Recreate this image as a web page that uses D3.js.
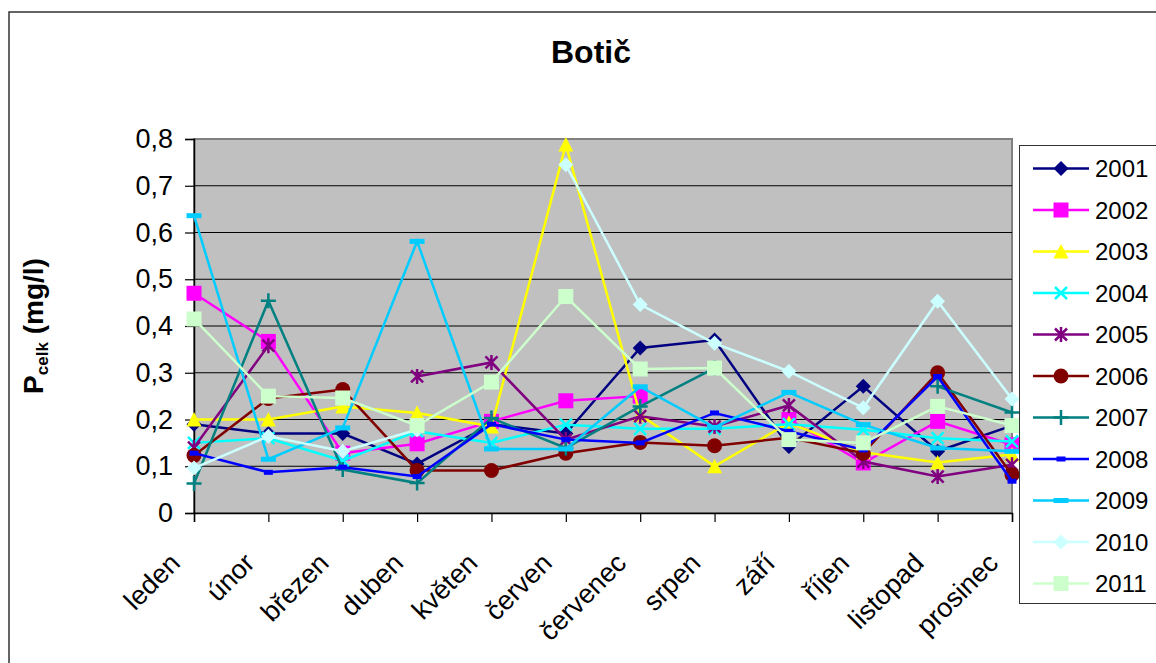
<!DOCTYPE html>
<html>
<head>
<meta charset="utf-8">
<script src="https://cdn.jsdelivr.net/npm/d3@7"></script>
<style>
  body { margin: 0; background: #fff; }
  text { font-family: "Liberation Sans", Arial, sans-serif; }
</style>
</head>
<body>
<svg id="chart" width="1156" height="663"></svg>
<script>
const months = ["leden", "únor", "březen", "duben", "květen", "červen",
                "červenec", "srpen", "září", "říjen", "listopad", "prosinec"];
const years = ["2001", "2002", "2003", "2004", "2005", "2006",
               "2007", "2008", "2009", "2010", "2011"];

const p2001 = [0.19, 0.17, 0.17, 0.105, 0.19, 0.17, 0.353, 0.37, 0.142, 0.271, 0.132, 0.187];
const p2002 = [0.47, 0.367, 0.128, 0.148, 0.196, 0.24, 0.25, null, 0.2, 0.107, 0.196, 0.146];
const p2003 = [0.2, 0.2, 0.228, 0.214, 0.185, 0.788, 0.21, 0.1, 0.193, 0.13, 0.108, 0.125];
const p2004 = [0.15, 0.16, 0.112, 0.175, 0.15, 0.189, 0.18, 0.18, 0.19, 0.178, 0.16, 0.153];
const p2005 = [0.14, 0.358, null, 0.292, 0.322, 0.157, 0.207, 0.185, 0.23, 0.11, 0.078, 0.103];
const p2006 = [0.123, 0.245, 0.264, 0.091, 0.091, 0.128, 0.151, 0.144, 0.161, 0.128, 0.3, 0.082];
const p2007 = [0.063, 0.454, 0.093, 0.064, 0.203, 0.139, 0.228, 0.31, null, null, 0.271, 0.215];
const p2008 = [0.128, 0.087, 0.098, 0.078, 0.19, 0.157, 0.15, 0.214, 0.175, 0.135, 0.292, 0.068];
const p2009 = [0.636, 0.115, 0.182, 0.581, 0.137, 0.137, 0.27, 0.183, 0.258, 0.189, 0.139, 0.132];
const p2010 = [0.096, 0.164, 0.132, 0.178, null, 0.745, 0.446, 0.363, 0.303, 0.225, 0.453, 0.244];
const p2011 = [0.415, 0.25, 0.246, 0.187, 0.28, 0.463, 0.308, 0.31, 0.157, 0.15, 0.228, 0.187];

const yTicks = [0, 0.1, 0.2, 0.3, 0.4, 0.5, 0.6, 0.7, 0.8];

const seriesValues = [p2001, p2002, p2003, p2004, p2005, p2006, p2007, p2008, p2009, p2010, p2011];
const colors = ["#000080", "#ff00ff", "#ffff00", "#00ffff", "#800080", "#800000",
                "#008080", "#0000ff", "#00ccff", "#ccffff", "#ccffcc"];
const markers = ["diamond", "square", "triangle", "x", "star", "circle",
                 "plus", "dashS", "dashL", "diamond", "square"];

const series = years.map((y, i) => ({
  name: y, values: seriesValues[i], color: colors[i], marker: markers[i]
}));

const svg = d3.select("#chart");
const plotL = 194, plotR = 1012, plotT = 139, plotB = 513;

const x = d3.scalePoint().domain(months).range([plotL, plotR]).padding(0);
const y = d3.scaleLinear().domain([0, 0.8]).range([plotB, plotT]);

// outer chart border
svg.append("rect")
  .attr("x", 9).attr("y", 12).attr("width", 1200).attr("height", 700)
  .attr("fill", "#fff").attr("stroke", "#333").attr("stroke-width", 1.5);

svg.append("text")
  .attr("x", 591).attr("y", 63)
  .attr("text-anchor", "middle")
  .style("font-size", "32px").style("font-weight", "bold")
  .text("Botič");

// plot area
svg.append("rect")
  .attr("x", plotL).attr("y", plotT).attr("width", plotR - plotL).attr("height", plotB - plotT)
  .attr("fill", "#c0c0c0").attr("stroke", "#808080").attr("stroke-width", 2);

svg.append("g").selectAll("line")
  .data(yTicks.filter(d => d > 0 && d < 0.8))
  .enter().append("line")
  .attr("x1", plotL).attr("x2", plotR)
  .attr("y1", d => y(d)).attr("y2", d => y(d))
  .attr("stroke", "#000").attr("stroke-width", 1);

// axes
const fmt = d => d === 0 ? "0" : d3.format(".1f")(d).replace(".", ",");

const yAxis = svg.append("g")
  .attr("transform", `translate(${plotL},0)`)
  .call(d3.axisLeft(y).tickValues(yTicks).tickFormat(fmt).tickSize(9).tickPadding(12));
yAxis.select(".domain").attr("stroke", "#000").attr("stroke-width", 1.5);
yAxis.selectAll(".tick line").attr("stroke", "#000").attr("stroke-width", 1.2);
yAxis.selectAll("text")
  .style("font-size", "27px").style("font-family", "'Liberation Sans', Arial, sans-serif")
  .attr("fill", "#000");

const xAxis = svg.append("g")
  .attr("transform", `translate(0,${plotB})`)
  .call(d3.axisBottom(x).tickSize(9).tickFormat(""));
xAxis.select(".domain").attr("stroke", "#000").attr("stroke-width", 1.5);
xAxis.selectAll(".tick line").attr("stroke", "#000").attr("stroke-width", 1.2);

svg.append("g").selectAll("text")
  .data(months)
  .enter().append("text")
  .attr("transform", d => `translate(${x(d) - 19},${plotB + 45}) rotate(-45)`)
  .attr("text-anchor", "end")
  .attr("dy", "0.35em")
  .style("font-size", "27px")
  .text(d => d);

// y axis title
const yTitle = svg.append("text")
  .attr("transform", `translate(43,${(plotT + plotB) / 2}) rotate(-90)`)
  .attr("text-anchor", "middle")
  .style("font-size", "28px").style("font-weight", "bold");
yTitle.append("tspan").text("P");
yTitle.append("tspan").style("font-size", "17px").attr("dy", 5).text("celk");
yTitle.append("tspan").attr("dy", -5).text(" (mg/l)");

// marker shapes
function markerPath(type) {
  switch (type) {
    case "diamond": return "M0,-7.5L7.5,0L0,7.5L-7.5,0Z";
    case "square": return "M-7.5,-7.5H7.5V7.5H-7.5Z";
    case "triangle": return "M0,-7.5L7.5,7L-7.5,7Z";
    case "x": return "M-6,-6L6,6M-6,6L6,-6";
    case "star": return "M-6,-6L6,6M-6,6L6,-6M0,-7.5V7.5";
    case "plus": return "M-7.5,0H7.5M0,-7.5V7.5";
    case "circle": return d3.symbol(d3.symbolCircle, Math.PI * 7.5 * 7.5)();
    case "dashS": return "M-4.5,-2.5H4.5V2.5H-4.5Z";
    case "dashL": return "M-7.5,-2.5H7.5V2.5H-7.5Z";
  }
}
const stroked = t => t === "x" || t === "star" || t === "plus";

function drawMarker(sel, s) {
  sel.attr("d", markerPath(s.marker))
    .attr("fill", stroked(s.marker) ? "none" : s.color)
    .attr("stroke", stroked(s.marker) ? s.color : "none")
    .attr("stroke-width", 2.5);
}

const line = d3.line()
  .defined(d => d != null)
  .x((d, i) => x(months[i]))
  .y(d => y(d));

const gSeries = svg.append("g").selectAll("g")
  .data(series)
  .enter().append("g");

gSeries.append("path")
  .attr("d", d => line(d.values))
  .attr("fill", "none")
  .attr("stroke", d => d.color)
  .attr("stroke-width", 2.5);

gSeries.each(function (s) {
  d3.select(this).selectAll(".mk")
    .data(s.values.map((v, i) => ({ v, m: months[i] })).filter(d => d.v != null))
    .enter().append("path")
    .attr("class", "mk")
    .attr("transform", d => `translate(${x(d.m)},${y(d.v)})`)
    .call(drawMarker, s);
});

// legend
const legend = svg.append("g");
legend.append("rect")
  .attr("x", 1019.5).attr("y", 145.5).attr("width", 200).attr("height", 458)
  .attr("fill", "#fff").attr("stroke", "#333").attr("stroke-width", 1);

const item = legend.selectAll("g.item")
  .data(series)
  .enter().append("g")
  .attr("class", "item")
  .attr("transform", (d, i) => `translate(0,${168.5 + i * 41.5})`);

item.append("line")
  .attr("x1", 1033).attr("x2", 1089)
  .attr("stroke", d => d.color).attr("stroke-width", 2.5);

item.append("path")
  .attr("transform", "translate(1061,0)")
  .each(function (s) { d3.select(this).call(drawMarker, s); });

item.append("text")
  .attr("x", 1095).attr("dy", "0.36em")
  .style("font-size", "24px")
  .text(d => d.name);
</script>
</body>
</html>
